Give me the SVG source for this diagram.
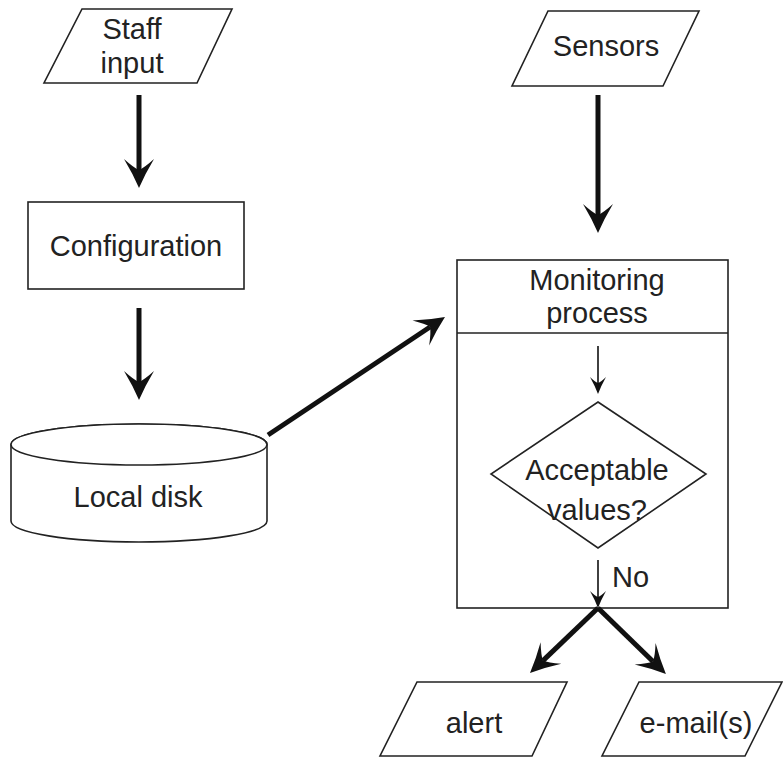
<svg xmlns="http://www.w3.org/2000/svg" width="783" height="759" viewBox="0 0 783 759">
<style>
.shape{fill:#fff;stroke:#222;stroke-width:1.6}
.lbl{font-family:"Liberation Sans",Arial,sans-serif;font-size:29px;fill:#222;text-anchor:middle}
.thick{stroke:#111;stroke-width:5;fill:none;marker-end:url(#big)}
.thin{stroke:#111;stroke-width:1.6;fill:none;marker-end:url(#small)}
</style>
<defs>
<marker id="big" markerUnits="userSpaceOnUse" viewBox="-12 -16 31 32" markerWidth="31" markerHeight="32" refX="0" refY="0" orient="auto" overflow="visible">
<path d="M18,0 Q4,-6 -11,-15 Q-2,-5 0,0 Q-2,5 -11,15 Q4,6 18,0 Z" fill="#111"/>
</marker>
<marker id="small" markerUnits="userSpaceOnUse" viewBox="-8 -9 19 18" markerWidth="19" markerHeight="18" refX="0" refY="0" orient="auto" overflow="visible">
<path d="M11,0 Q3,-3 -6,-8 Q-1,-3 0,0 Q-1,3 -6,8 Q3,3 11,0 Z" fill="#111"/>
</marker>
</defs>
<rect width="783" height="759" fill="#fff"/>
<g id="staff-input">
<polygon class="shape" points="82,9 232,9 197,83 44,83"/>
<text class="lbl" x="132" y="39">Staff</text>
<text class="lbl" x="132" y="73">input</text>
</g>
<g id="configuration">
<rect class="shape" x="28" y="202" width="216" height="87"/>
<text class="lbl" x="136" y="256">Configuration</text>
</g>
<g id="local-disk">
<path class="shape" d="M11,444.5 L11,521 A128,21 0 0 0 267,521 L267,444.5 A128,20.5 0 0 0 11,444.5 Z"/>
<ellipse class="shape" cx="139" cy="444.5" rx="128" ry="20.5"/>
<text class="lbl" x="138" y="507">Local disk</text>
</g>
<g id="sensors">
<polygon class="shape" points="548,11 699,11 663,86 512,86"/>
<text class="lbl" x="606" y="56">Sensors</text>
</g>
<g id="monitoring-process">
<rect class="shape" x="457" y="260" width="271" height="348"/>
<line class="shape" x1="457" y1="333" x2="728" y2="333"/>
<text class="lbl" x="597" y="290">Monitoring</text>
<text class="lbl" x="597" y="323">process</text>
</g>
<g id="acceptable-values">
<polygon class="shape" points="598,402 706,474 598,548 491,474"/>
<text class="lbl" x="597" y="480">Acceptable</text>
<text class="lbl" x="597" y="520">values?</text>
</g>
<g id="alert">
<polygon class="shape" points="417,682 567,682 532,756 380,756"/>
<text class="lbl" x="474" y="733">alert</text>
</g>
<g id="emails">
<polygon class="shape" points="639,682 782,682 745,756 602,756"/>
<text class="lbl" x="696" y="733">e-mail(s)</text>
</g>
<g id="connectors">
<line class="thick" x1="139" y1="95" x2="139" y2="170"/>
<line class="thick" x1="139" y1="308" x2="139" y2="382"/>
<line class="thick" x1="598" y1="95" x2="598" y2="215"/>
<line class="thick" x1="268" y1="435" x2="430" y2="327"/>
<line class="thin" x1="598" y1="346" x2="598" y2="383"/>
<line class="thin" x1="598" y1="560" x2="598" y2="597"/>
<text class="lbl" x="612" y="587" style="text-anchor:start">No</text>
<line class="thick" x1="598" y1="608" x2="543" y2="660.6"/>
<line class="thick" x1="598" y1="608" x2="653" y2="661.5"/>
</g>
</svg>
